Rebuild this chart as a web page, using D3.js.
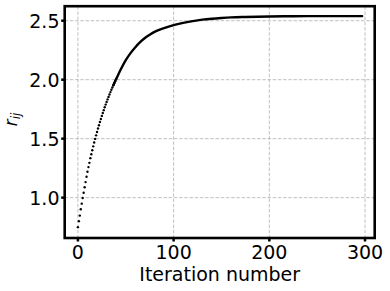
<!DOCTYPE html>
<html><head><meta charset="utf-8">
<script src="https://cdn.jsdelivr.net/npm/d3@7"></script>
<style>
body{margin:0;background:#fff}
svg{display:block}
text{font-family:"DejaVu Sans",sans-serif;fill:#000}
</style></head>
<body><svg id="c" width="390" height="291"></svg>
<script>
// per-iteration readings of the early, separated markers
const dotIter = [0,1,2,3,4,5,6,7,8,9,10,11,12,13,14,15,16,17,18,19,20,21,22,23,24,25,26,27,28,29,30,31,32,33,34,35,36,37,38,39,40];
const dotVals = [0.750,0.801,0.848,0.902,0.949,0.997,1.042,1.088,1.132,1.177,1.219,1.259,1.295,1.335,1.368,1.402,
  1.435,1.467,1.498,1.528,1.557,1.586,1.614,1.641,1.667,1.693,1.718,1.742,1.766,1.789,1.811,1.833,1.854,1.875,1.895,1.915,
  1.934,1.953,1.971,1.989,2.006];
// readings along the dense (continuous-looking) part
const lineIter = [40,45,50,55,60,65,70,75,80,90,100,110,120,130,140,150,160,175,200,225,250,297];
const lineVals = [2.006,2.090,2.165,2.225,2.275,2.318,2.353,2.381,2.405,2.437,2.462,2.481,2.497,2.509,2.517,2.523,2.528,2.532,2.536,2.538,2.539,2.539];
const xTicks = [0,100,200,300];
const yTicks = [1.0,1.5,2.0,2.5];
const xTickLabels = ["0","100","200","300"];
const yTickLabels = ["1.0","1.5","2.0","2.5"];
const xLabel = "Iteration number";

const L=64.7, R=374.7, T=6.2, B=238;
const FS = 19;
const svg = d3.select("#c");
const x = d3.scaleLinear().domain([-13.8,310.1]).range([L,R]);
const y = d3.scaleLinear().domain([0.658,2.623]).range([B,T]);

// grid
const g = svg.append("g");
g.selectAll("line.vx").data(xTicks).join("line")
  .attr("x1",d=>x(d)).attr("x2",d=>x(d)).attr("y1",T).attr("y2",B)
  .attr("stroke","#b0b0b0").attr("stroke-width",0.8).attr("stroke-dasharray","3.5,1.7");
g.selectAll("line.hy").data(yTicks).join("line")
  .attr("y1",d=>y(d)).attr("y2",d=>y(d)).attr("x1",L).attr("x2",R)
  .attr("stroke","#b0b0b0").attr("stroke-width",0.8).attr("stroke-dasharray","3.5,1.7");

// data
const pts = lineIter.map((d,i)=>[d,lineVals[i]]);
const early = dotIter.map((d,i)=>[d,dotVals[i]]).filter(p=>p[0]>=37);
const linePts = early.concat(pts.slice(1));
svg.append("path").datum(linePts)
  .attr("d", d3.line().x(d=>x(d[0])).y(d=>y(d[1])).curve(d3.curveMonotoneX))
  .attr("fill","none").attr("stroke","#000").attr("stroke-width",2.4).attr("stroke-linecap","round");
svg.selectAll("circle.dot").data(dotIter.map((d,i)=>[d,dotVals[i]])).join("circle")
  .attr("cx",d=>x(d[0])).attr("cy",d=>y(d[1])).attr("r",1.2).attr("fill","#000");

// ticks
svg.selectAll("line.xt").data(xTicks).join("line")
  .attr("x1",d=>x(d)).attr("x2",d=>x(d)).attr("y1",B).attr("y2",B+3.5)
  .attr("stroke","#000").attr("stroke-width",2.5);
svg.selectAll("line.yt").data(yTicks).join("line")
  .attr("y1",d=>y(d)).attr("y2",d=>y(d)).attr("x1",L).attr("x2",L-3.5)
  .attr("stroke","#000").attr("stroke-width",2.5);
svg.selectAll("text.xtl").data(xTicks).join("text")
  .attr("x",d=>x(d)).attr("y",258.5).attr("text-anchor","middle").attr("font-size",FS)
  .text((d,i)=>xTickLabels[i]);
svg.selectAll("text.ytl").data(yTicks).join("text")
  .attr("x",59.5).attr("y",d=>y(d)+7.3).attr("text-anchor","end").attr("font-size",FS)
  .text((d,i)=>yTickLabels[i]);

// labels
svg.append("text").attr("x",(L+R)/2).attr("y",281).attr("text-anchor","middle").attr("font-size",FS).text(xLabel);
const yl = svg.append("text").attr("transform","translate(16.5,119.5) rotate(-90)").attr("text-anchor","middle").attr("font-size",17);
yl.append("tspan").attr("font-style","italic").text("r");
yl.append("tspan").attr("font-style","italic").attr("font-size",12).attr("dy",3.4).text("ij");

// spines
svg.append("rect").attr("x",L).attr("y",T).attr("width",R-L).attr("height",B-T)
  .attr("fill","none").attr("stroke","#000").attr("stroke-width",2.6);
</script></body></html>
